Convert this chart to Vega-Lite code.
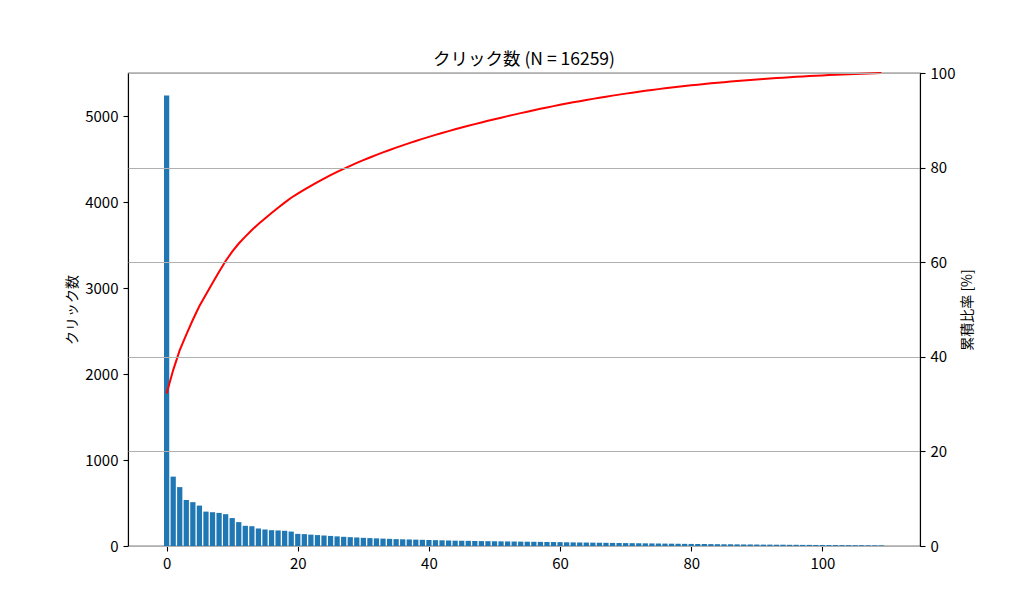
{
  "$schema": "https://vega.github.io/schema/vega-lite/v6.json",
  "width": 792,
  "height": 473,
  "autosize": {"type": "none"},
  "padding": {"left": 128, "top": 73, "right": 104, "bottom": 68},
  "background": "white",
  "config": {
    "font": "Noto Sans CJK JP",
    "view": {"stroke": "black", "strokeWidth": 1.1},
    "axis": {"labelFont": "Noto Sans CJK JP", "titleFont": "Noto Sans CJK JP", "labelFontSize": 15, "titleFontSize": 14, "titleFontWeight": "normal", "labelColor": "#000", "titleColor": "#000", "tickColor": "#000", "domainColor": "#000", "tickSize": 5, "tickWidth": 1.1, "domainWidth": 1.1, "labelPadding": 5, "format": "d"}
  },
  "title": {"text": "クリック数 (N = 16259)", "fontSize": 17.5, "fontWeight": "normal", "font": "Noto Sans CJK JP", "color": "#000", "offset": -2, "anchor": "middle"},
  "data": {"values": [
    {"i":0,"c":5240},{"i":1,"c":807},{"i":2,"c":685},{"i":3,"c":535},{"i":4,"c":510},{"i":5,"c":470},{"i":6,"c":400},{"i":7,"c":393},{"i":8,"c":385},{"i":9,"c":370},
    {"i":10,"c":325},{"i":11,"c":278},{"i":12,"c":235},{"i":13,"c":230},{"i":14,"c":205},{"i":15,"c":192},{"i":16,"c":184},{"i":17,"c":181},{"i":18,"c":177},{"i":19,"c":168},
    {"i":20,"c":141},{"i":21,"c":138},{"i":22,"c":132},{"i":23,"c":127},{"i":24,"c":122},{"i":25,"c":117},{"i":26,"c":112},{"i":27,"c":107},{"i":28,"c":103},{"i":29,"c":99},
    {"i":30,"c":95},{"i":31,"c":92},{"i":32,"c":89},{"i":33,"c":86},{"i":34,"c":83},{"i":35,"c":80},{"i":36,"c":78},{"i":37,"c":76},{"i":38,"c":74},{"i":39,"c":72},
    {"i":40,"c":70},{"i":41,"c":68},{"i":42,"c":66},{"i":43,"c":64},{"i":44,"c":62},{"i":45,"c":61},{"i":46,"c":60},{"i":47,"c":58},{"i":48,"c":57},{"i":49,"c":56},
    {"i":50,"c":55},{"i":51,"c":54},{"i":52,"c":53},{"i":53,"c":52},{"i":54,"c":51},{"i":55,"c":50},{"i":56,"c":49},{"i":57,"c":48},{"i":58,"c":47},{"i":59,"c":46},
    {"i":60,"c":45},{"i":61,"c":43},{"i":62,"c":42},{"i":63,"c":41},{"i":64,"c":40},{"i":65,"c":39},{"i":66,"c":38},{"i":67,"c":37},{"i":68,"c":36},{"i":69,"c":35},
    {"i":70,"c":34},{"i":71,"c":33},{"i":72,"c":32},{"i":73,"c":31},{"i":74,"c":30},{"i":75,"c":29},{"i":76,"c":28},{"i":77,"c":27},{"i":78,"c":26},{"i":79,"c":25},
    {"i":80,"c":24},{"i":81,"c":23},{"i":82,"c":23},{"i":83,"c":22},{"i":84,"c":21},{"i":85,"c":20},{"i":86,"c":20},{"i":87,"c":19},{"i":88,"c":18},{"i":89,"c":18},
    {"i":90,"c":17},{"i":91,"c":16},{"i":92,"c":16},{"i":93,"c":15},{"i":94,"c":15},{"i":95,"c":14},{"i":96,"c":14},{"i":97,"c":13},{"i":98,"c":13},{"i":99,"c":12},
    {"i":100,"c":12},{"i":101,"c":11},{"i":102,"c":11},{"i":103,"c":10},{"i":104,"c":10},{"i":105,"c":9},{"i":106,"c":9},{"i":107,"c":8},{"i":108,"c":8},{"i":109,"c":7}
  ]},
  "encoding": {
    "x": {"field": "i", "type": "quantitative", "scale": {"domain": [-5.89, 114.89], "nice": false, "zero": false, "padding": 0},
          "axis": {"values": [0, 20, 40, 60, 80, 100], "title": null, "grid": false, "labelFlush": false}}
  },
  "layer": [
    {
      "mark": {"type": "bar", "color": "#1f77b4", "size": 5.25},
      "encoding": {
        "y": {"field": "c", "type": "quantitative", "scale": {"domain": [0, 5502], "nice": false, "padding": 0},
              "axis": {"orient": "left", "values": [0, 1000, 2000, 3000, 4000, 5000], "title": "クリック数", "grid": false, "titlePadding": 5}}
      }
    },
    {
      "transform": [
        {"joinaggregate": [{"op": "sum", "field": "c", "as": "total"}]},
        {"sort": [{"field": "i"}], "window": [{"op": "sum", "field": "c", "as": "cum"}], "frame": [null, 0]},
        {"calculate": "datum.cum / datum.total * 100", "as": "pct"}
      ],
      "mark": {"type": "line", "color": "red", "strokeWidth": 2},
      "encoding": {
        "y": {"field": "pct", "type": "quantitative", "scale": {"domain": [0, 100], "nice": false},
              "axis": {"orient": "right", "values": [0, 20, 40, 60, 80, 100], "title": "累積比率 [%]", "titleAngle": 270, "grid": true, "gridColor": "#b0b0b0", "gridWidth": 1.1, "zindex": 1, "titlePadding": 20}}
      }
    }
  ],
  "resolve": {"scale": {"y": "independent"}}
}
